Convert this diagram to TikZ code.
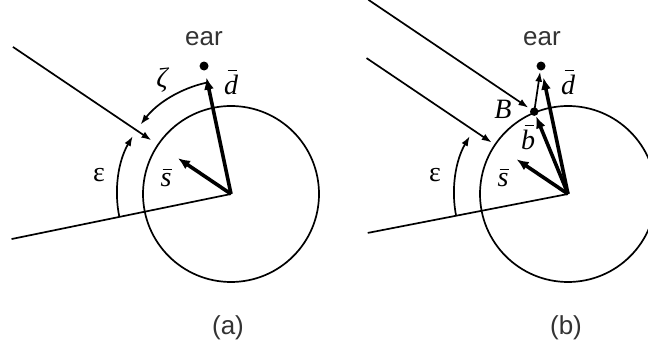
\documentclass[tikz,border=0pt]{standalone}
\usepackage{fontspec}
\setmainfont{Liberation Serif}
\newfontfamily\arialf{Liberation Sans}
\usetikzlibrary{arrows.meta,calc}
\newcommand{\ovl}[1]{\leavevmode\setbox0\hbox{#1}\hbox to \wd0{\hss\rlap{\raisebox{\dimexpr\ht0+0.12em\relax}{\kern-0.12em\rule{0.34em}{0.06em}}}\hss}\kern-\wd0\box0}
\begin{document}
\begin{tikzpicture}[x=1pt,y=1pt,
  thin line/.style={line width=1.7pt},
  thinarrow/.style={line width=1.7pt,-{Latex[length=10pt,width=7pt]}},
  thickarrow/.style={line width=3.6pt,-{Latex[length=12pt,width=10pt]}},
  dotnode/.style={circle,fill=black,inner sep=0pt,minimum size=9pt},
  sanslbl/.style={font=\arialf\fontsize{26}{30}\selectfont,text=black!80,inner sep=0pt},
  mathlbl/.style={font=\fontsize{28}{32}\selectfont\itshape,inner sep=0pt},
  greeklbl/.style={font=\fontsize{28}{32}\selectfont,inner sep=0pt}]
\useasboundingbox (0,0) rectangle (648,358);
% ---------- panel (a)
\coordinate (Ca) at (231,164);
\draw[thin line] (Ca) circle[radius=88pt];
\node[dotnode] (eara) at ($(Ca)+(101.9:130.8)$) {};
\coordinate (La) at ($(Ca)+(191.6:224)$);
\coordinate (Ua0) at ($(Ca)+(146:263)$);
\coordinate (Ua1) at ($(Ca)+(146:96)$);
\draw[thin line] (La) -- (Ca);
\draw[thinarrow] (Ua0) -- (Ua1);
\draw[thickarrow] (Ca) -- ($(Ca)+(101.9:119)$);
\draw[thickarrow] (Ca) -- ($(Ca)+(146:64)$);
\draw[thinarrow] ($(Ca)+(191.6:114)$) arc[start angle=191.6,end angle=149.5,radius=114pt];
\draw[thinarrow] ($(Ca)+(102.5:114)$) arc[start angle=102.5,end angle=142.5,radius=114pt];
\node[sanslbl] (eartxa) at (204,319) {ear};
\node[greeklbl] (zeta) at (162,278) {\itshape ζ};
\node[mathlbl] (da) at (231,276) {\ovl{d}};
\node[mathlbl] (sa) at (166,180) {\ovl{s}};
\node[greeklbl] (epsa) at (99,183) {ε};
\node[sanslbl] (capa) at (228,30) {(a)};
% ---------- panel (b)
\coordinate (Cb) at (568,164);
\begin{scope}
\clip (0,0) rectangle (648,358);
\draw[thin line] (Cb) circle[radius=88pt];
\end{scope}
\node[dotnode] (earb) at ($(Cb)+(101.9:130.8)$) {};
\node[dotnode,minimum size=8.5pt] (B) at ($(Cb)+(112.3:89)$) {};
\coordinate (Lb) at ($(Cb)+(191:204)$);
\coordinate (Ub0) at ($(Cb)+(146:243)$);
\coordinate (Ub1) at ($(Cb)+(146:92)$);
\coordinate (Vb0) at ($(B)+(146:200)$);
\coordinate (Vb1) at ($(B)+(146:7)$);
\draw[thin line] (Lb) -- (Cb);
\draw[thinarrow] (Ub0) -- (Ub1);
\draw[thinarrow] (Vb0) -- (Vb1);
\draw[thickarrow] (Cb) -- ($(Cb)+(101.9:119)$);
\draw[thickarrow,shorten >=5pt] (Cb) -- (B.center);
\draw[thinarrow,shorten >=1pt] (B.center) -- (earb);
\draw[thickarrow] (Cb) -- ($(Cb)+(146:62)$);
\draw[thinarrow] ($(Cb)+(191:114)$) arc[start angle=191,end angle=149.5,radius=114pt];
\node[sanslbl] (eartxb) at (542,319) {ear};
\node[mathlbl] (Blbl) at (503,249) {B};
\node[mathlbl] (bb) at (528,221) {\ovl{b}};
\node[mathlbl] (db) at (568,276) {\ovl{d}};
\node[mathlbl] (sb) at (503,180) {\ovl{s}};
\node[greeklbl] (epsb) at (435,183) {ε};
\node[sanslbl] (capb) at (566,30) {(b)};
\end{tikzpicture}
\end{document}
